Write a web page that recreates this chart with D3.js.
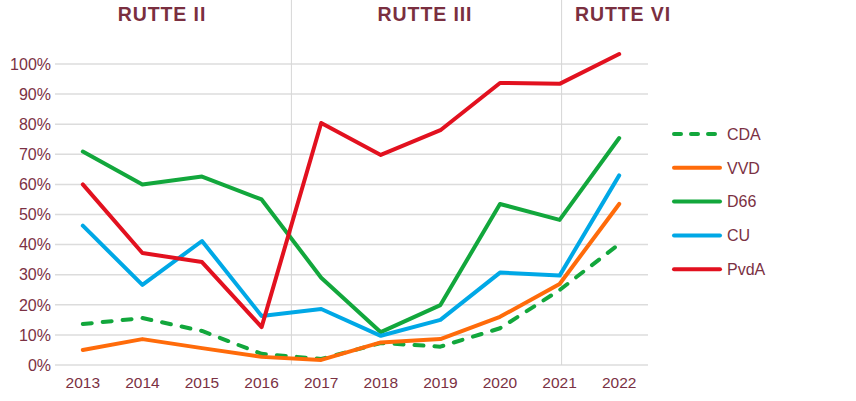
<!DOCTYPE html>
<html>
<head>
<meta charset="utf-8">
<script src="https://cdn.jsdelivr.net/npm/d3@7/dist/d3.min.js"></script>
<style>
  html, body { margin: 0; padding: 0; background: #fff; }
  svg { display: block; }
  text { font-family: "Liberation Sans", Arial, sans-serif; fill: #7b3143; }
</style>
</head>
<body>
<svg id="chart" width="856" height="401"></svg>
<script>
const years = ["2013","2014","2015","2016","2017","2018","2019","2020","2021","2022"];
const yTicks = [0,10,20,30,40,50,60,70,80,90,100];
const cabinets = ["RUTTE II", "RUTTE III", "RUTTE VI"];
const cdaValues  = [13.6, 15.6, 11.3, 3.7, 2.0, 7.3, 6.1, 12.2, 24.9, 40.2];
const vvdValues  = [5.0, 8.6, 5.6, 2.7, 1.7, 7.5, 8.6, 16.0, 26.9, 53.5];
const d66Values  = [70.9, 60.0, 62.6, 55.0, 29.0, 10.9, 19.9, 53.5, 48.2, 75.4];
const cuValues   = [46.3, 26.6, 41.2, 16.3, 18.6, 9.7, 15.0, 30.7, 29.7, 63.0];
const pvdaValues = [60.0, 37.2, 34.2, 12.6, 80.4, 69.8, 78.0, 93.7, 93.4, 103.3];
const seriesNames = ["CDA", "VVD", "D66", "CU", "PvdA"];

const series = [
  { name: seriesNames[0], values: cdaValues,  color: "#12a73c", dashed: true },
  { name: seriesNames[1], values: vvdValues,  color: "#ff6b0a", dashed: false },
  { name: seriesNames[2], values: d66Values,  color: "#12a73c", dashed: false },
  { name: seriesNames[3], values: cuValues,   color: "#00a8e6", dashed: false },
  { name: seriesNames[4], values: pvdaValues, color: "#e2111f", dashed: false }
];

const svg = d3.select("#chart");
const x = d3.scalePoint().domain(years).range([53, 649]).padding(0.5);
const y = d3.scaleLinear().domain([0, 100]).range([365, 64]);
const step = x.step();

// gridlines
svg.append("g").selectAll("line").data(yTicks).join("line")
  .attr("x1", 55).attr("x2", 648)
  .attr("y1", d => y(d)).attr("y2", d => y(d))
  .attr("stroke", "#dcdcdc").attr("stroke-width", 1.5);

// cabinet separators
const sepX = [x("2016") + step / 2, x("2021") + 2];
svg.append("g").selectAll("line").data(sepX).join("line")
  .attr("x1", d => d).attr("x2", d => d)
  .attr("y1", 0).attr("y2", y(0))
  .attr("stroke", "#d6d6d6").attr("stroke-width", 1);

// cabinet headers
const headX = [162, 425, 623];
svg.append("g").selectAll("text").data(cabinets).join("text")
  .attr("x", (d, i) => headX[i]).attr("y", 20.5)
  .attr("text-anchor", "middle")
  .style("font-size", "19.5px").style("font-weight", "bold")
  .style("letter-spacing", "0.9px")
  .style("fill", "#7a2f40")
  .text(d => d);

// y tick labels
svg.append("g").selectAll("text").data(yTicks).join("text")
  .attr("x", 51).attr("y", d => y(d)).attr("dy", "0.36em")
  .attr("text-anchor", "end")
  .style("font-size", "16px")
  .text(d => d + "%");

// x labels
svg.append("g").selectAll("text").data(years).join("text")
  .attr("x", d => x(d)).attr("y", 388)
  .attr("text-anchor", "middle")
  .style("font-size", "15.5px")
  .text(d => d);

// lines
const line = d3.line().x((d, i) => x(years[i])).y(d => y(d));
svg.append("g").selectAll("path").data(series).join("path")
  .attr("d", d => line(d.values))
  .attr("fill", "none")
  .attr("stroke", d => d.color)
  .attr("stroke-width", 4)
  .attr("stroke-linecap", "round")
  .attr("stroke-linejoin", "round")
  .attr("stroke-dasharray", d => d.dashed ? "9,11" : null);

// legend
const lg = svg.append("g").selectAll("g").data(series).join("g")
  .attr("transform", (d, i) => `translate(674, ${134 + i * 33.8})`);
lg.append("line")
  .attr("x1", 0).attr("x2", 46).attr("y1", 0).attr("y2", 0)
  .attr("stroke", d => d.color).attr("stroke-width", 4)
  .attr("stroke-linecap", "round")
  .attr("stroke-dasharray", d => d.dashed ? "7,10" : null);
lg.append("text")
  .attr("x", 53).attr("y", 0).attr("dy", "0.36em")
  .style("font-size", "16px")
  .text(d => d.name);
</script>
</body>
</html>
